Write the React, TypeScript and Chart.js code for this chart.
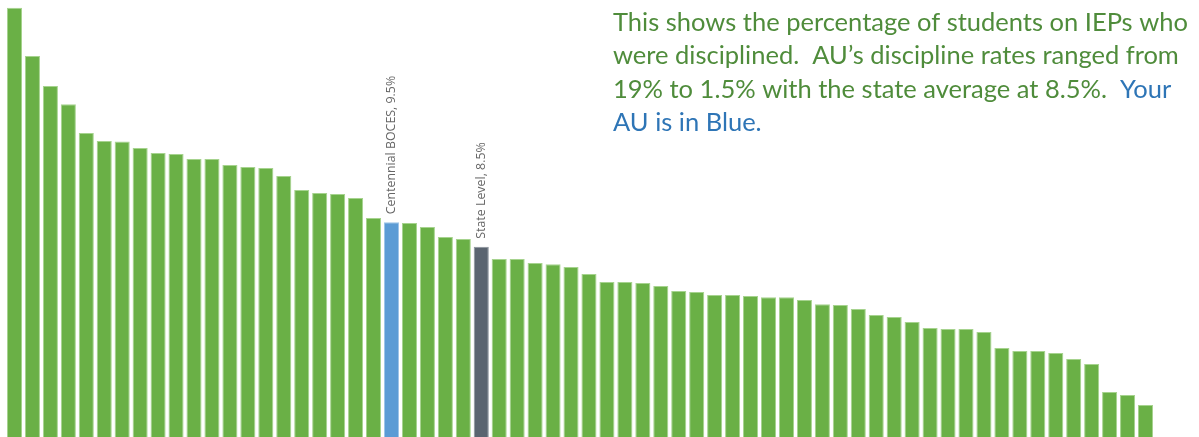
import React, { useEffect, useRef } from "react";
import { Chart, registerables } from "chart.js";

Chart.register(...registerables);

const categories: string[] = Array.from({ length: 64 }, (_, i) => `AU ${i + 1}`);
categories[21] = "Centennial BOCES";
categories[26] = "State Level";

const rates: number[] = [
  19.0, 16.86, 15.53, 14.73, 13.45, 13.1, 13.08, 12.79, 12.57, 12.52,
  12.3, 12.3, 12.04, 11.95, 11.9, 11.55, 10.93, 10.8, 10.75, 10.58,
  9.69, 9.5, 9.47, 9.29, 8.85, 8.76, 8.42, 7.88, 7.88, 7.7,
  7.65, 7.52, 7.21, 6.86, 6.86, 6.81, 6.68, 6.46, 6.42, 6.28,
  6.28, 6.24, 6.19, 6.19, 6.06, 5.88, 5.84, 5.66, 5.4, 5.31,
  5.09, 4.82, 4.78, 4.78, 4.65, 3.94, 3.81, 3.81, 3.72, 3.45,
  3.23, 1.99, 1.86, 1.42,
];

const barLabels: { index: number; text: string }[] = [
  { index: 21, text: "Centennial BOCES, 9.5%" },
  { index: 26, text: "State Level, 8.5%" },
];

const GREEN = "#6AB046";
const BLUE = "#5B9BD5";
const GRAY = "#5A6470";
const TEXT_GREEN = "#4F8C3B";
const TEXT_BLUE = "#2E75B6";

const noteLines: { text: string; color: string }[][] = [
  [{ text: "This shows the percentage of students on IEPs who", color: TEXT_GREEN }],
  [{ text: "were disciplined.  AU\u2019s discipline rates ranged from", color: TEXT_GREEN }],
  [
    { text: "19% to 1.5% with the state average at 8.5%.  ", color: TEXT_GREEN },
    { text: "Your", color: TEXT_BLUE },
  ],
  [{ text: "AU is in Blue.", color: TEXT_BLUE }],
];

const barColors = rates.map((_, i) => (i === 21 ? BLUE : i === 26 ? GRAY : GREEN));
const borderColors = rates.map((_, i) =>
  i === 21 ? "#9CC3E8" : i === 26 ? "#8A929B" : "#A6D38E"
);

const annotationPlugin = {
  id: "annotations",
  afterDatasetsDraw(chart: any) {
    const ctx = chart.ctx as CanvasRenderingContext2D;
    const meta = chart.getDatasetMeta(0);
    ctx.save();
    ctx.fillStyle = "#666666";
    ctx.font = "12.4px 'Open Sans', sans-serif";
    ctx.textAlign = "left";
    ctx.textBaseline = "middle";
    for (const l of barLabels) {
      const bar = meta.data[l.index];
      ctx.save();
      ctx.translate(bar.x, bar.y - 8);
      ctx.rotate(-Math.PI / 2);
      ctx.fillText(l.text, 0, 0);
      ctx.restore();
    }
    ctx.restore();

    // note text
    ctx.save();
    const family = "Lato, 'Open Sans', sans-serif";
    ctx.font = `24px ${family}`;
    const w1 = ctx.measureText(noteLines[0][0].text).width;
    const size = (24 * 575) / w1;
    ctx.font = `${size}px ${family}`;
    ctx.textAlign = "left";
    ctx.textBaseline = "alphabetic";
    const x0 = 613;
    const baselines = [31, 64, 98, 131];
    noteLines.forEach((segs, li) => {
      let x = x0;
      for (const s of segs) {
        ctx.fillStyle = s.color;
        ctx.fillText(s.text, x, baselines[li]);
        x += ctx.measureText(s.text).width;
      }
    });
    ctx.restore();
  },
};

export default function App() {
  const ref = useRef<HTMLCanvasElement | null>(null);
  useEffect(() => {
    if (!ref.current) return;
    const chart = new Chart(ref.current, {
      type: "bar",
      data: {
        labels: categories,
        datasets: [
          {
            data: rates,
            backgroundColor: barColors,
            borderColor: borderColors,
            borderWidth: 1,
            barPercentage: 0.84,
            categoryPercentage: 1,
          },
        ],
      },
      options: {
        animation: false,
        responsive: false,
        maintainAspectRatio: false,
        layout: { padding: { left: 5.5, right: 44.5, top: 0, bottom: 0 } },
        plugins: { legend: { display: false }, tooltip: { enabled: false } },
        scales: {
          x: { display: false, offset: true, grid: { display: false } },
          y: { display: false, min: 0, max: 19.34 },
        },
      },
      plugins: [annotationPlugin],
    });
    return () => chart.destroy();
  }, []);
  return (
    <div style={{ position: "fixed", left: 0, top: 0, width: 1199, height: 437, background: "#fff" }}>
      <canvas ref={ref} width={1199} height={437} style={{ display: "block" }} />
    </div>
  );
}
